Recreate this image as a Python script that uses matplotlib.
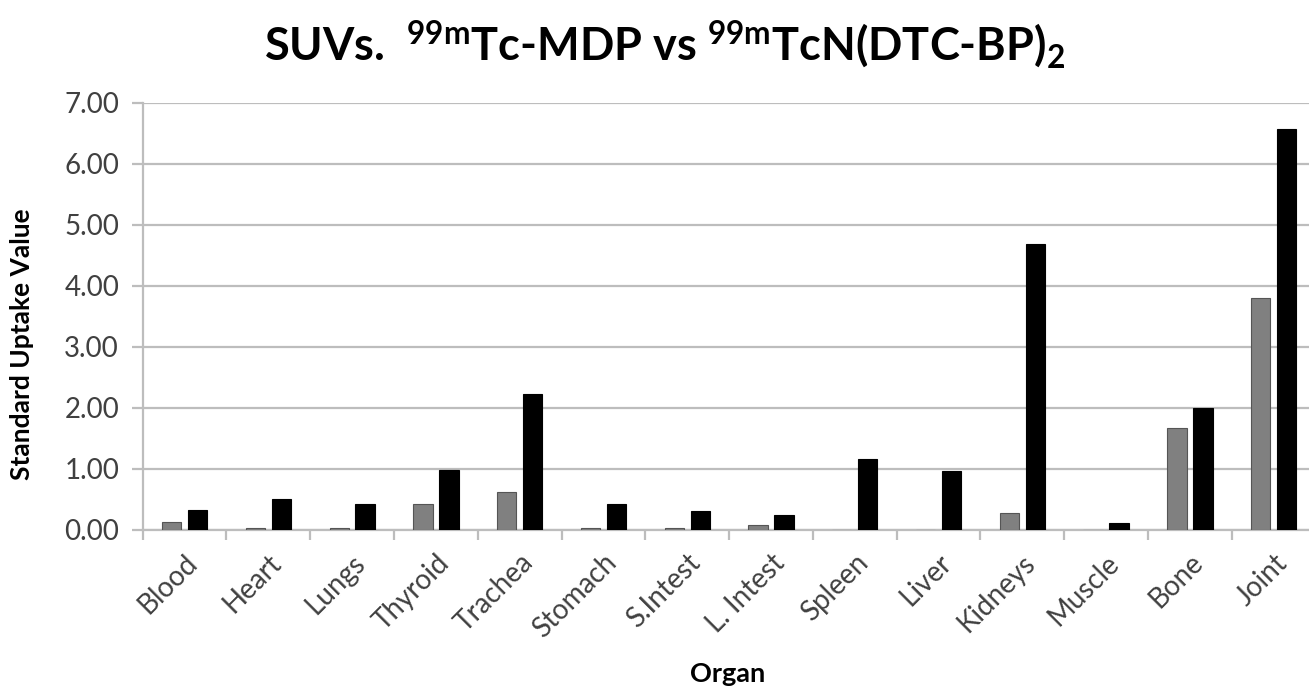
import matplotlib
matplotlib.use("Agg")
import matplotlib.pyplot as plt
import numpy as np

organs = ["Blood", "Heart", "Lungs", "Thyroid", "Trachea", "Stomach", "S.Intest",
          "L. Intest", "Spleen", "Liver", "Kidneys", "Muscle", "Bone", "Joint"]
# 99mTc-MDP (grey) and 99mTcN(DTC-BP)2 (black)
mdp = [0.13, 0.04, 0.04, 0.43, 0.62, 0.04, 0.04, 0.08, 0.0, 0.0, 0.28, 0.0, 1.68, 3.81]
dtc = [0.33, 0.51, 0.43, 0.99, 2.23, 0.43, 0.31, 0.25, 1.16, 0.96, 4.69, 0.11, 2.00, 6.57]
yticks = [0, 1, 2, 3, 4, 5, 6, 7]

FONT = "Lato"
plt.rcParams['font.family'] = [FONT, 'DejaVu Sans']
plt.rcParams['mathtext.fontset'] = 'custom'
plt.rcParams['mathtext.rm'] = FONT
plt.rcParams['mathtext.bf'] = FONT + ':bold'

fig = plt.figure(figsize=(13.09, 6.91), dpi=100)
# axes runs slightly past the right edge, like the cropped original
ax = fig.add_axes([0.109, 0.233, 0.896, 0.618])

x = np.arange(len(organs))
w = 0.23
ax.bar(x - 0.155, mdp, w, color="#808080", edgecolor="#555555", linewidth=0.8, zorder=3)
ax.bar(x + 0.155, dtc, w, color="black", edgecolor="black", linewidth=0.8, zorder=3)

ax.set_xlim(-0.5, len(organs) - 0.5)
ax.set_ylim(0, 7)
ax.set_yticks(yticks)
ax.set_yticklabels(["%.2f" % v for v in yticks], fontsize=20, color="#404040")
ax.yaxis.grid(True, color="#bdbdbd", linewidth=1.6, zorder=0)
ax.tick_params(axis='y', length=8, color="#bdbdbd", width=1.6, pad=9)

ax.set_xticks(x)
ax.set_xticklabels(organs, rotation=45, ha='right', rotation_mode='anchor',
                   fontsize=20, color="#404040")
ax.set_xticks(np.arange(len(organs) + 1) - 0.5, minor=True)
ax.tick_params(axis='x', which='major', length=0, pad=14)
ax.tick_params(axis='x', which='minor', length=7, color="#bdbdbd", width=1.6)

for s in ['top', 'right']:
    ax.spines[s].set_visible(False)
ax.spines['left'].set_color("#bdbdbd")
ax.spines['left'].set_linewidth(1.6)
ax.spines['bottom'].set_color("#bdbdbd")
ax.spines['bottom'].set_linewidth(1.6)

ax.set_ylabel("Standard Uptake Value", fontsize=19, fontweight='bold', va='center')
ax.yaxis.set_label_coords(-0.103, 0.436)
fig.text(0.556, 0.013, "Organ", fontsize=19.5, fontweight='bold', ha='center', va='baseline')

title = (r"SUVs.  $^{\mathbf{99m}}$Tc-MDP vs $^{\mathbf{99m}}$TcN(DTC-BP)$_{\mathbf{2}}$")
fig.text(0.508, 0.935, title, fontsize=32.5, fontweight='bold', ha='center', va='center')

fig.savefig("out.png", dpi=100)
